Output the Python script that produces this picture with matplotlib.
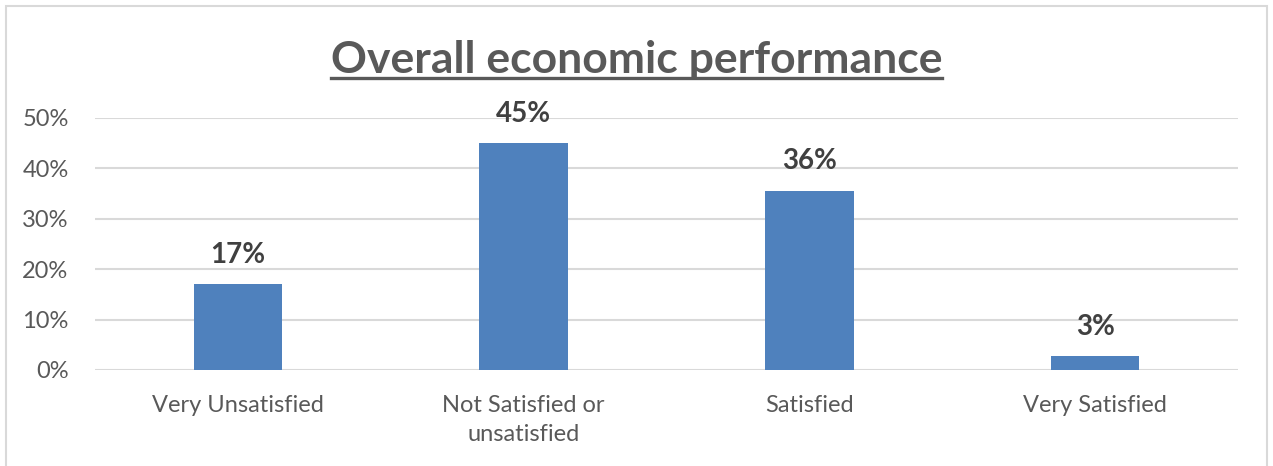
import matplotlib.pyplot as plt
from matplotlib.lines import Line2D
from matplotlib.patches import Rectangle
from matplotlib.ticker import PercentFormatter

categorias = ["Very Unsatisfied", "Not Satisfied or\nunsatisfied", "Satisfied", "Very Satisfied"]
valores = [0.17, 0.45, 0.356, 0.027]
ticks_y = [0, 0.1, 0.2, 0.3, 0.4, 0.5]

AZUL = "#4F81BD"
GRIS_TEXTO = "#595959"
GRIS_REJILLA = "#D9D9D9"

plt.rcParams["font.family"] = ["Lato", "DejaVu Sans"]

fig = plt.figure(figsize=(12.73, 4.66), dpi=100)
ax = fig.add_axes([95 / 1273, 96 / 466, (1238 - 95) / 1273, (370 - 118) / 466])

# marco gris alrededor del grafico
fig.patches.append(Rectangle((6 / 1273, -0.05), (1267 - 6) / 1273, (460 + 0.05 * 466) / 466,
                             transform=fig.transFigure, fill=False,
                             edgecolor="#D9D9D9", linewidth=1.5))

x = range(len(categorias))
barras = ax.bar(x, valores, width=0.31, color=AZUL, zorder=3)

for b, v in zip(barras, valores):
    ax.annotate(f"{v:.0%}", (b.get_x() + b.get_width() / 2, v),
                xytext=(0, 12), textcoords="offset points",
                ha="center", va="bottom", fontsize=20, fontweight="bold",
                color="#404040")

ax.set_xlim(-0.5, len(categorias) - 0.5)
ax.set_ylim(0, 0.5)
ax.set_yticks(ticks_y)
ax.yaxis.set_major_formatter(PercentFormatter(1.0, decimals=0))
ax.set_xticks(list(x))
ax.set_xticklabels(categorias, linespacing=1.45)
ax.tick_params(axis="both", length=0, labelsize=17, labelcolor=GRIS_TEXTO)
ax.tick_params(axis="x", pad=18)
ax.tick_params(axis="y", pad=19)
ax.grid(axis="y", color=GRIS_REJILLA, linewidth=1.5, zorder=0)
for s in ax.spines.values():
    s.set_visible(False)

# titulo subrayado
titulo = fig.text(0.5, (466 - 73) / 466, "Overall economic performance",
                  ha="center", va="baseline", fontsize=32, fontweight="bold",
                  color=GRIS_TEXTO)
fig.canvas.draw()
bb = titulo.get_window_extent(fig.canvas.get_renderer())
y_sub = (466 - 78) / 466
fig.lines.append(Line2D([bb.x0 / 1273, bb.x1 / 1273], [y_sub, y_sub],
                        transform=fig.transFigure, color=GRIS_TEXTO, linewidth=2.4))

fig.savefig("out.png", dpi=100, facecolor="white")
